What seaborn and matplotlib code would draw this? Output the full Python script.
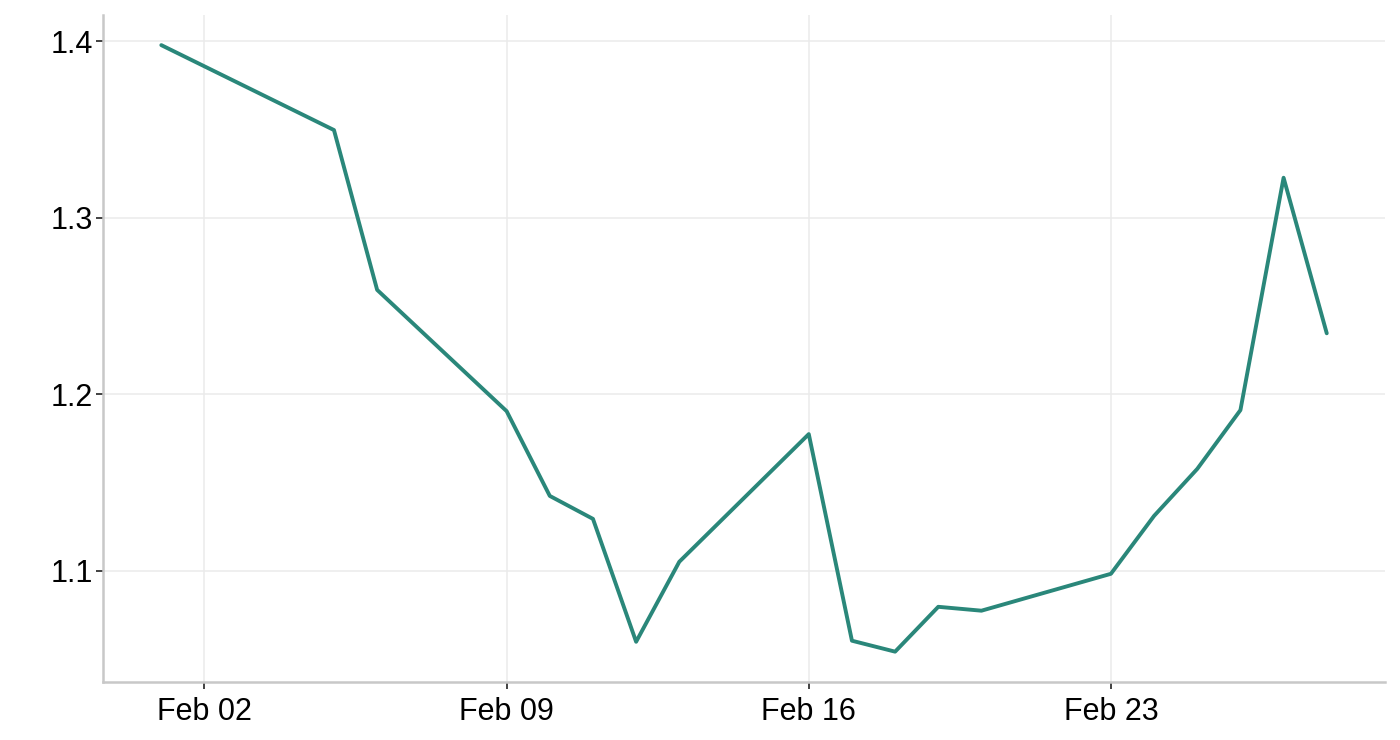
import matplotlib
matplotlib.use("Agg")
import matplotlib.pyplot as plt
import matplotlib.dates as mdates
import seaborn as sns
import pandas as pd

fechas = ["2026-02-01", "2026-02-05", "2026-02-06", "2026-02-09", "2026-02-10",
          "2026-02-11", "2026-02-12", "2026-02-13", "2026-02-16", "2026-02-17",
          "2026-02-18", "2026-02-19", "2026-02-20", "2026-02-23", "2026-02-24",
          "2026-02-25", "2026-02-26", "2026-02-27", "2026-02-28"]
valores = [1.3977, 1.3496, 1.2591, 1.1904, 1.1424,
           1.1294, 1.0598, 1.1051, 1.1774, 1.0604,
           1.0542, 1.0796, 1.0774, 1.0983, 1.1311,
           1.1577, 1.1910, 1.3226, 1.2345]
ticks_x = ["2026-02-02", "2026-02-09", "2026-02-16", "2026-02-23"]
ticks_y = [1.1, 1.2, 1.3, 1.4]

df = pd.DataFrame({"fecha": pd.to_datetime(fechas), "valor": valores})

sns.set_theme(style="whitegrid")
plt.rcParams["font.family"] = ["Liberation Sans", "DejaVu Sans"]

fig = plt.figure(figsize=(14, 7.4), dpi=100)
ax = fig.add_axes([0.0736, 0.0784, 0.9157, 0.9016])

sns.lineplot(data=df, x="fecha", y="valor", color="#2a877a", linewidth=2.8, ax=ax)

ax.set_xticks(pd.to_datetime(ticks_x))
ax.xaxis.set_major_formatter(mdates.DateFormatter("%b %d"))
ax.set_yticks(ticks_y)
ax.set_yticklabels([f"{v:.1f}" for v in ticks_y])
ax.set_xlabel("")
ax.set_ylabel("")
ax.margins(x=0.05, y=0.05)

ax.set_facecolor("white")
ax.grid(True, color="#ebebeb", linewidth=1.1)
for lado in ["top", "right"]:
    ax.spines[lado].set_visible(False)
for lado in ["left", "bottom"]:
    ax.spines[lado].set_color("#c8c8c8")
    ax.spines[lado].set_linewidth(1.8)
ax.tick_params(axis="both", length=5, width=1.3, color="#333333",
               labelsize=22, labelcolor="black", bottom=True, left=True)
ax.tick_params(axis="x", pad=6)
ax.tick_params(axis="y", pad=2)

fig.savefig("out.png", dpi=100, facecolor="white")
